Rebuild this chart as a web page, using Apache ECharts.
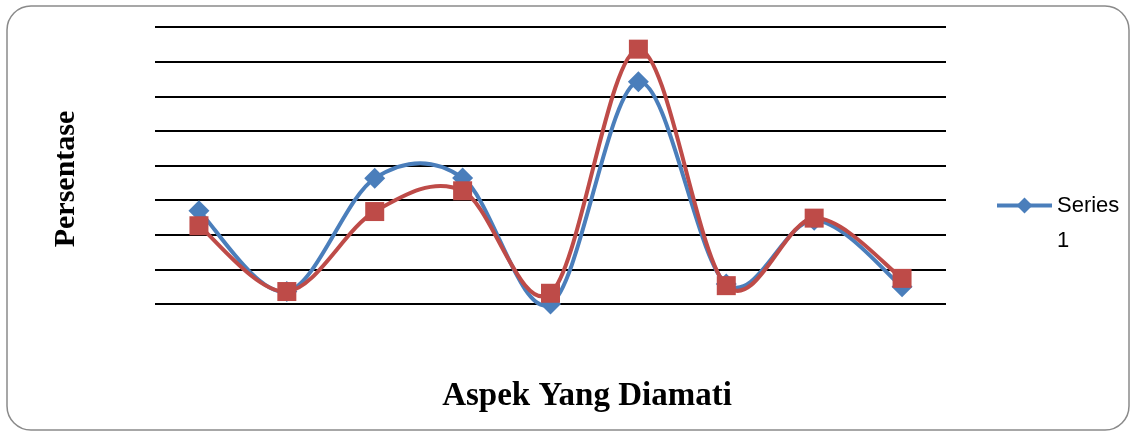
<!DOCTYPE html>
<html>
<head>
<meta charset="utf-8">
<script src="https://cdn.jsdelivr.net/npm/echarts@6/dist/echarts.min.js"></script>
<style>
  html, body { margin: 0; padding: 0; background: #fff; }
  #chart { width: 1135px; height: 434px; }
</style>
</head>
<body>
<div id="chart"></div>
<script>
// Aspects observed (one category per aspect)
const categories = ['1', '2', '3', '4', '5', '6', '7', '8', '9'];
// Percentage per aspect
const series1Values = [26.9, 3.6, 36.3, 36.4, 0.0, 64.2, 5.8, 24.2, 5.0];
const series2Values = [22.6, 3.6, 26.7, 32.7, 3.1, 73.6, 5.3, 24.8, 7.4];
const seriesNames = ['Series 1', 'Series 2'];
const seriesColors = ['#4a7ebb', '#be4b48'];
const xTitle = 'Aspek Yang Diamati';
const yTitle = 'Persentase';

const chart = echarts.init(document.getElementById('chart'), null, { renderer: 'canvas' });

const serif = '"Liberation Serif", "Times New Roman", serif';

// Smooth curve through the points (Catmull-Rom style Bezier segments),
// one segment per data item, positioned with the grid's own coordinates.
function curveRenderer(values, color) {
  return function (params, api) {
    const i = params.dataIndex;
    if (i >= values.length - 1) return null;
    const pt = (j) => {
      const k = Math.max(0, Math.min(values.length - 1, j));
      return api.coord([k, values[k]]);
    };
    const p0 = pt(i - 1), p1 = pt(i), p2 = pt(i + 1), p3 = pt(i + 2);
    const t = 1 / 6;
    return {
      type: 'bezierCurve',
      shape: {
        x1: p1[0], y1: p1[1],
        cpx1: p1[0] + (p2[0] - p0[0]) * t, cpy1: p1[1] + (p2[1] - p0[1]) * t,
        cpx2: p2[0] - (p3[0] - p1[0]) * t, cpy2: p2[1] - (p3[1] - p1[1]) * t,
        x2: p2[0], y2: p2[1]
      },
      style: { stroke: color, lineWidth: 4, fill: null, lineCap: 'round' },
      silent: true
    };
  };
}

function pairs(values) {
  return values.map((v, i) => [i, v]);
}

chart.setOption({
  animation: false,
  backgroundColor: '#fff',
  graphic: [
    {
      type: 'rect',
      silent: true,
      z: -1,
      shape: { x: 7, y: 6, width: 1122, height: 424, r: 24 },
      style: { fill: 'none', stroke: '#8a8a8a', lineWidth: 1.5 }
    },
    {
      type: 'text',
      x: 587, y: 396,
      style: {
        text: xTitle, font: 'bold 33px ' + serif, fill: '#000',
        align: 'center', verticalAlign: 'middle'
      }
    },
    {
      type: 'text',
      x: 66, y: 179,
      rotation: Math.PI / 2,
      style: {
        text: yTitle, font: 'bold 30px ' + serif, fill: '#000',
        align: 'center', verticalAlign: 'middle'
      }
    }
  ],
  grid: { left: 155, right: 189, top: 27, bottom: 130 },
  legend: {
    data: [seriesNames[0]],
    left: 995,
    top: 153,
    padding: 0,
    itemWidth: 55,
    itemHeight: 20,
    formatter: function (name) { return '\n' + name.replace(' ', '\n'); },
    lineStyle: { color: seriesColors[0], width: 4, opacity: 1 },
    textStyle: {
      fontFamily: '"Liberation Sans", Arial, sans-serif',
      fontSize: 22,
      lineHeight: 35,
      color: '#000'
    }
  },
  xAxis: {
    type: 'category',
    data: categories,
    boundaryGap: true,
    axisLine: { show: false },
    axisTick: { show: false },
    axisLabel: { show: false },
    splitLine: { show: false }
  },
  yAxis: {
    type: 'value',
    min: 0,
    max: 80,
    interval: 10,
    axisLine: { show: false },
    axisTick: { show: false },
    axisLabel: { show: false },
    splitLine: { show: true, lineStyle: { color: '#000', width: 1.8 } }
  },
  series: [
    {
      name: seriesNames[0],
      type: 'line',
      z: 3,
      data: series1Values,
      symbol: 'diamond',
      symbolSize: 21,
      itemStyle: { color: seriesColors[0] },
      lineStyle: { color: seriesColors[0], width: 4, opacity: 0 }
    },
    {
      name: seriesNames[1],
      type: 'line',
      z: 5,
      data: series2Values,
      symbol: 'rect',
      symbolSize: 19,
      itemStyle: { color: seriesColors[1] },
      lineStyle: { color: seriesColors[1], width: 4, opacity: 0 }
    },
    {
      name: seriesNames[0],
      type: 'custom',
      z: 2,
      data: pairs(series1Values),
      encode: { x: 0, y: 1 },
      renderItem: curveRenderer(series1Values, seriesColors[0])
    },
    {
      name: seriesNames[1],
      type: 'custom',
      z: 4,
      data: pairs(series2Values),
      encode: { x: 0, y: 1 },
      renderItem: curveRenderer(series2Values, seriesColors[1])
    }
  ]
});
</script>
</body>
</html>
